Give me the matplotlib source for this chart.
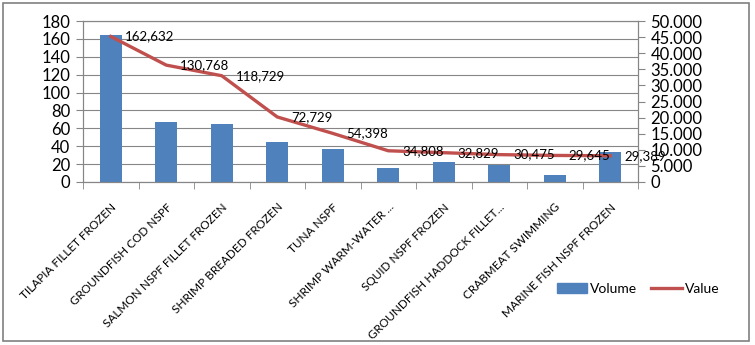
import matplotlib
matplotlib.use("Agg")
import matplotlib.pyplot as plt
from matplotlib.patches import Rectangle
from matplotlib.lines import Line2D
from matplotlib.ticker import FuncFormatter, FixedLocator
import numpy as np

plt.rcParams['font.family'] = ['Lato', 'DejaVu Sans']

categories = ["TILAPIA FILLET FROZEN", "GROUNDFISH COD NSPF", "SALMON NSPF FILLET FROZEN",
              "SHRIMP BREADED FROZEN", "TUNA NSPF", "SHRIMP WARM-WATER ...",
              "SQUID NSPF FROZEN", "GROUNDFISH HADDOCK FILLET...", "CRABMEAT SWIMMING",
              "MARINE FISH NSPF FROZEN"]
volume = [164.5, 67, 65, 44.5, 37, 15.5, 22.5, 19.5, 8, 33.5]
value = [45200, 36300, 33000, 20200, 15100, 9700, 9100, 8500, 8250, 8150]
value_labels = ["162,632", "130,768", "118,729", "72,729", "54,398",
                "34,808", "32,829", "30,475", "29,645", "29,389"]

bar_color = "#4F81BD"
line_color = "#C0504D"
grid_color = "#868686"

W, H = 755, 345
fig = plt.figure(figsize=(W / 100, H / 100), dpi=100)
fig.patches.append(Rectangle((3 / W, 4 / H), 746 / W, 338 / H, transform=fig.transFigure,
                             fill=False, edgecolor="#808080", linewidth=1.2))

ax = fig.add_axes([83 / W, (H - 182) / H, 555 / W, 161 / H])
x = np.arange(len(categories))
ax.bar(x, volume, width=0.4, color=bar_color, zorder=2)
ax.set_xlim(-0.5, len(categories) - 0.5)
ax.set_ylim(0, 180)
ax.set_yticks(np.arange(0, 181, 20))
ax.yaxis.grid(True, color=grid_color, linewidth=0.8)
ax.set_axisbelow(True)
for s in ax.spines.values():
    s.set_color(grid_color)
    s.set_linewidth(0.8)
ax.tick_params(axis='y', labelsize=12, length=5, color=grid_color, pad=4)
ax.set_xticks(x)
ax.set_xticklabels(categories, rotation=45, ha='right', rotation_mode='anchor',
                   fontsize=8.5)
ax.tick_params(axis='x', which='major', length=0, pad=14)
ax.xaxis.set_minor_locator(FixedLocator(np.arange(-0.5, len(categories), 1)))
ax.tick_params(axis='x', which='minor', length=5, color=grid_color)

ax2 = ax.twinx()
ax2.plot(x, value, color=line_color, linewidth=2.4, zorder=3)
ax2.set_ylim(0, 50000)
ax2.set_yticks(np.arange(0, 50001, 5000))
ax2.yaxis.set_major_formatter(FuncFormatter(lambda v, p: f"{v:,.0f}".replace(",", ".")))
ax2.tick_params(axis='y', labelsize=12, length=5, color=grid_color, pad=4)
for s in ax2.spines.values():
    s.set_color(grid_color)
    s.set_linewidth(0.8)

for xi, yi, lab in zip(x, value, value_labels):
    ax2.annotate(lab, (xi, yi), xytext=(10, 0), textcoords='offset points',
                 ha='left', va='center', fontsize=9.5)

handles = [Rectangle((0, 0), 1, 1, color=bar_color),
           Line2D([0], [0], color=line_color, linewidth=2.4)]
fig.legend(handles, ["Volume", "Value"], loc='center', bbox_to_anchor=(638 / W, 1 - 289 / H),
           ncol=2, frameon=False, fontsize=10, handlelength=2.2, handletextpad=0.2,
           columnspacing=1.0)

fig.savefig("out.png", dpi=100)
